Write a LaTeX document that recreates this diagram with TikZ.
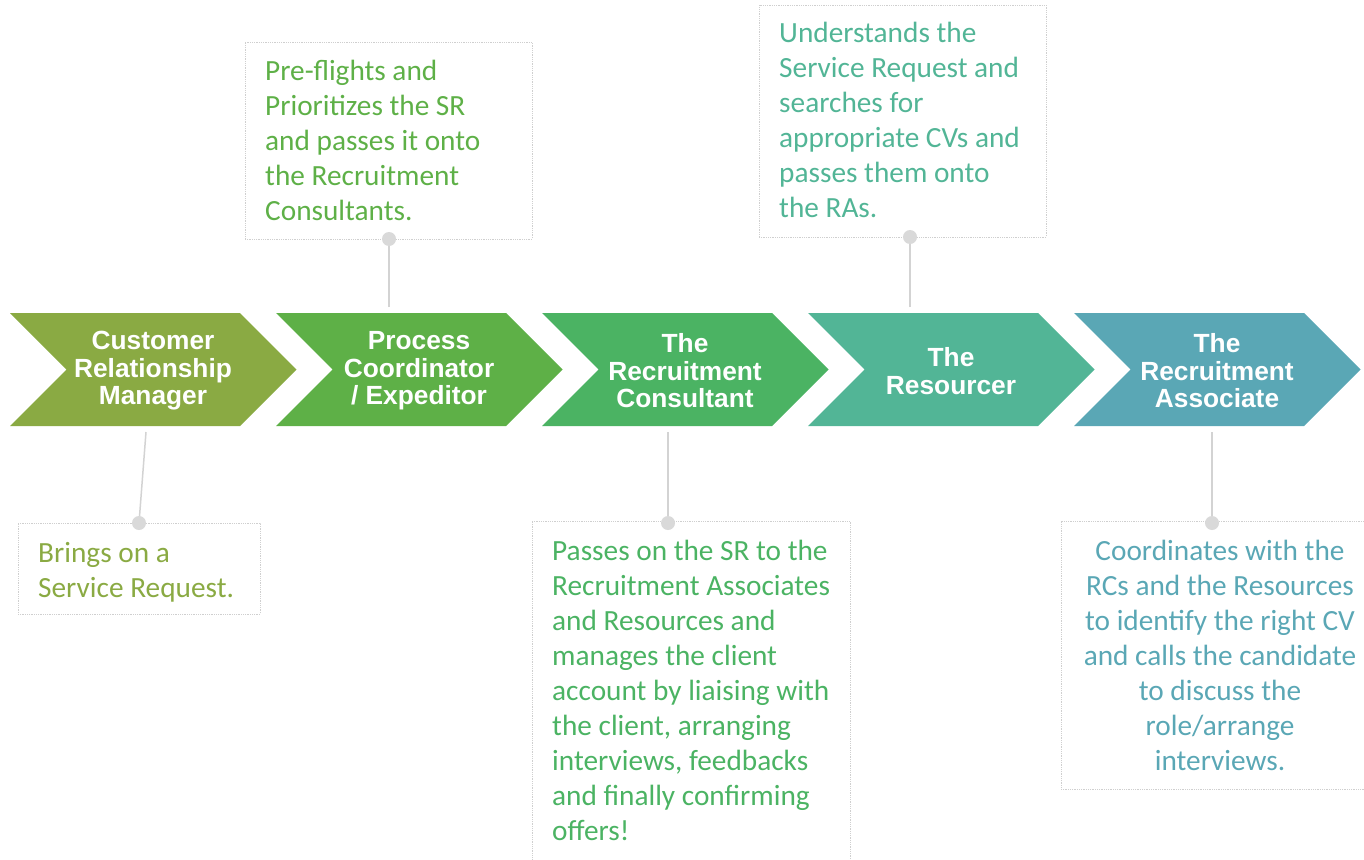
\documentclass[tikz,border=0pt]{standalone}
\usepackage{fontspec}
\setmainfont{Carlito}
\newfontfamily\chevfont{Liberation Sans}
\definecolor{cA}{HTML}{8AAA43}
\definecolor{cB}{HTML}{5EB047}
\definecolor{cC}{HTML}{4BB363}
\definecolor{cD}{HTML}{52B596}
\definecolor{cE}{HTML}{5AA7B5}
\definecolor{boxline}{HTML}{CFCFCF}
\definecolor{conn}{HTML}{D3D3D3}
\definecolor{dotcol}{HTML}{D9D9D9}
\begin{document}
\begin{tikzpicture}[x=1pt,y=-1pt,
  chevtext/.style={text=white, font=\chevfont\bfseries\fontsize{26.3}{27.5}\selectfont, align=center, inner sep=0pt},
  infobox/.style={draw=boxline, densely dotted, line width=0.8pt, inner sep=0pt},
  infotext/.style={font=\fontsize{29.3}{35}\selectfont, inner sep=0pt, anchor=north west, align=left},
  connector/.style={draw=conn, line width=1.5pt},
  dotnode/.style={circle, fill=dotcol, inner sep=0pt, minimum size=14pt}]
\useasboundingbox (0,0) rectangle (1364,859);
% chevrons
\foreach \i/\col in {0/cA,1/cB,2/cC,3/cD,4/cE}{
  \pgfmathsetmacro{\L}{10+266*\i}
  \fill[\col] (\L,313) -- ++(230,0) -- ++(56.5,56.5) -- ++(-56.5,56.5) -- ++(-230,0) -- ++(56.5,-56.5) -- cycle;
}
\node[chevtext] (c1) at (153,371) {Customer\\Relationship\\Manager};
\node[chevtext] (c2) at (419,371) {Process\\Coordinator\\/ Expeditor};
\node[chevtext] (c3) at (685,371) {The\\Recruitment\\Consultant};
\node[chevtext] (c4) at (951,371) {The\\Resourcer};
\node[chevtext] (c5) at (1217,371) {The\\Recruitment\\Associate};
% boxes
\node[infobox, minimum width=242pt, minimum height=91pt] (b1) at (139,568.5) {};
\node[infobox, minimum width=287pt, minimum height=197pt] (b2) at (388.5,140.5) {};
\node[infobox, minimum width=318pt, minimum height=344pt] (b3) at (691,693) {};
\node[infobox, minimum width=287pt, minimum height=232pt] (b4) at (902.5,121) {};
\node[infobox, minimum width=318pt, minimum height=268pt] (b5) at (1220,655) {};
% texts
\node[infotext, text=cA] (t1) at (38,542) {Brings on a\\Service Request.};
\node[infotext, text=cB] (t2) at (265,60) {Pre-flights and\\Prioritizes the SR\\and passes it onto\\the Recruitment\\Consultants.};
\node[infotext, text=cC] (t3) at (552,540) {Passes on the SR to the\\Recruitment Associates\\and Resources and\\manages the client\\account by liaising with\\the client, arranging\\interviews, feedbacks\\and finally confirming\\offers!};
\node[infotext, text=cD] (t4) at (779,22) {Understands the\\Service Request and\\searches for\\appropriate CVs and\\passes them onto\\the RAs.};
\node[infotext, text=cE, anchor=north, align=center] (t5) at (1220,540) {Coordinates with the\\RCs and the Resources\\to identify the right CV\\and calls the candidate\\to discuss the\\role/arrange\\interviews.};
% connector ends
\coordinate (e1) at (146,432);
\coordinate (e2) at (389,307);
\coordinate (e3) at (668,432);
\coordinate (e4) at (910,307);
\coordinate (e5) at (1212,432);
\coordinate (p1) at (139,523);
\coordinate (p2) at (389,239);
\coordinate (p3) at (668,523);
\coordinate (p4) at (910,237);
\coordinate (p5) at (1212,523);
\foreach \k in {1,...,5}{ \draw[connector] (e\k) -- (p\k); }
\foreach \k in {1,...,5}{ \node[dotnode] (d\k) at (p\k) {}; }
\end{tikzpicture}
\end{document}
